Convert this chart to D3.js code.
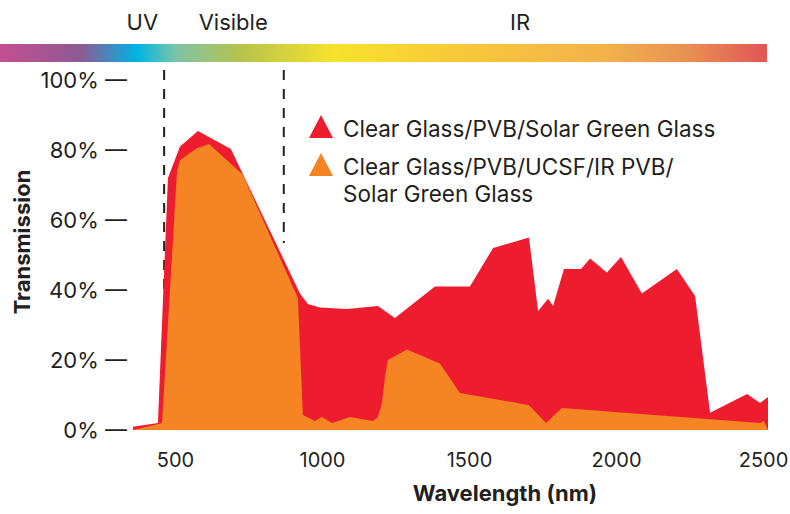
<!DOCTYPE html>
<html>
<head>
<meta charset="utf-8">
<script src="https://cdn.jsdelivr.net/npm/d3@7"></script>
<style>
  body { margin: 0; background: #fff; }
  svg { display: block; font-family: Inter, Roboto, "Noto Sans", sans-serif; }
</style>
</head>
<body>
<script>
const width = 790, height = 514;

// wavelength (nm) / transmission (%)
const clearWl = [357, 442, 476, 517, 578, 690, 925, 952, 993, 1085, 1190, 1248, 1384, 1503, 1582, 1704, 1735, 1769, 1786, 1823, 1881, 1912, 1969, 2017, 2088, 2207, 2269, 2320, 2446, 2490, 2517, 2517];
const clearVal = [0.9, 2, 72, 81, 85.4, 80.3, 39, 36, 35, 34.6, 35.4, 32, 41, 41, 52, 55, 34, 37.5, 35.4, 46, 46, 49, 45, 49.4, 39, 46, 38.3, 4.9, 10.3, 7.7, 9.4, 0];

const ucsfWl = [357, 456, 507, 517, 541, 575, 616, 731, 918, 935, 976, 1000, 1034, 1095, 1173, 1190, 1204, 1214, 1224, 1289, 1401, 1469, 1605, 1704, 1762, 1816, 2490, 2503, 2517];
const ucsfVal = [0, 2, 74, 77, 78.6, 80.5, 81.7, 72.9, 37.7, 4.3, 2.6, 3.7, 2, 3.7, 2.6, 3.7, 7.7, 15, 20, 23, 19, 10.6, 8.6, 7.1, 2, 6.3, 2, 2.6, 0];

const seriesNames = ["Clear Glass/PVB/Solar Green Glass", "Clear Glass/PVB/UCSF/IR PVB/\nSolar Green Glass"];
const seriesColors = ["#ed1c2e", "#f58422"];
const xTicks = [500, 1000, 1500, 2000, 2500];
const yTicks = [0, 20, 40, 60, 80, 100];
const bandLabels = ["UV", "Visible", "IR"];
const bandLabelWl = [389, 698, 1674];
const bandEdges = [463, 870];

const spectrumStops = [
  [0, "#c44f91"], [0.105, "#8e5a92"], [0.178, "#00b4e4"], [0.231, "#7fc4a6"],
  [0.31, "#b4c24f"], [0.435, "#f7e22c"], [0.593, "#f9c93a"], [0.79, "#f2b24c"],
  [0.9, "#e88f52"], [1, "#e05656"]
];

const ink = "#231f20";
const x = d3.scaleLinear().domain([500, 2500]).range([175, 763]);
const y = d3.scaleLinear().domain([0, 100]).range([430, 80]);

const svg = d3.select("body").append("svg")
  .attr("width", width)
  .attr("height", height);

// spectrum bar
const grad = svg.append("defs").append("linearGradient")
  .attr("id", "spectrum").attr("x1", "0%").attr("x2", "100%");
grad.selectAll("stop").data(spectrumStops).join("stop")
  .attr("offset", d => d[0])
  .attr("stop-color", d => d[1]);
svg.append("rect")
  .attr("x", 0).attr("y", 44).attr("width", 767).attr("height", 18)
  .attr("fill", "url(#spectrum)");

svg.selectAll(".band").data(bandLabels).join("text")
  .attr("class", "band")
  .attr("x", (d, i) => x(bandLabelWl[i]))
  .attr("y", 30)
  .attr("text-anchor", "middle")
  .attr("font-size", 22)
  .attr("fill", ink)
  .text(d => d);

// dashed band edges
svg.selectAll(".edge").data(bandEdges).join("line")
  .attr("class", "edge")
  .attr("x1", d => x(d)).attr("x2", d => x(d))
  .attr("y1", 70).attr("y2", (d, i) => i === 0 ? 430 : 243)
  .attr("stroke", ink).attr("stroke-width", 2)
  .attr("stroke-dasharray", "10,9");

const area = d3.area()
  .x(d => x(d[0]))
  .y0(y(0))
  .y1(d => y(d[1]));

svg.append("path")
  .datum(d3.zip(clearWl, clearVal))
  .attr("d", area)
  .attr("fill", seriesColors[0]);
svg.append("path")
  .datum(d3.zip(ucsfWl, ucsfVal))
  .attr("d", area)
  .attr("fill", seriesColors[1]);

// axes
const yAxis = svg.append("g")
  .attr("transform", "translate(131,0)")
  .call(d3.axisLeft(y).tickValues(yTicks).tickSize(0).tickPadding(4).tickFormat(d => d + "% \u2014"));
yAxis.select(".domain").remove();
yAxis.selectAll("text").attr("font-size", 22).attr("fill", ink)
  .attr("font-family", "Inter, sans-serif").attr("dy", "0.36em");

const xAxis = svg.append("g")
  .attr("transform", "translate(0,430)")
  .call(d3.axisBottom(x).tickValues(xTicks).tickSize(0).tickPadding(23).tickFormat(d3.format("d")));
xAxis.select(".domain").remove();
xAxis.selectAll("text").attr("font-size", 20).attr("fill", ink)
  .attr("font-family", "Inter, sans-serif");

svg.append("text")
  .attr("x", 505).attr("y", 501)
  .attr("text-anchor", "middle")
  .attr("font-size", 22).attr("font-weight", "bold").attr("fill", ink)
  .text("Wavelength (nm)");

svg.append("text")
  .attr("transform", "translate(30,242) rotate(-90)")
  .attr("text-anchor", "middle")
  .attr("font-size", 22).attr("font-weight", "bold").attr("fill", ink)
  .text("Transmission");

// legend
const legend = svg.append("g").attr("transform", "translate(309,115)");
const items = legend.selectAll("g").data(seriesNames).join("g")
  .attr("transform", (d, i) => `translate(0,${i * 38})`);
items.append("path")
  .attr("d", "M12,0 L24,23 L0,23 Z")
  .attr("fill", (d, i) => seriesColors[i]);
items.append("text")
  .attr("y", 22)
  .attr("font-size", 22.5).attr("fill", ink)
  .selectAll("tspan").data(d => d.split("\n")).join("tspan")
  .attr("x", 34)
  .attr("dy", (d, i) => i === 0 ? 0 : 27)
  .text(d => d);
</script>
</body>
</html>
